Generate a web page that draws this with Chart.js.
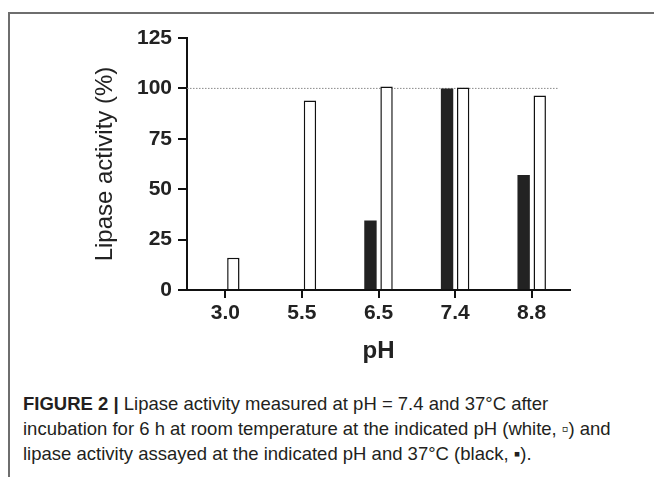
<!DOCTYPE html>
<html>
<head>
<meta charset="utf-8">
<script src="https://cdn.jsdelivr.net/npm/chart.js@4/dist/chart.umd.min.js"></script>
<style>
  body { margin: 0; background: #fff; width: 654px; height: 477px; overflow: hidden; position: relative; }
  #frame { position: absolute; left: 8px; top: 12px; right: 0; bottom: 0; border-top: 2px solid #6e6e6e; border-left: 2px solid #6e6e6e; }
  #chart { position: absolute; left: 0; top: 0; }
  #caption { position: absolute; left: 23px; top: 391px; font-family: "Liberation Sans", Arial, sans-serif; font-size: 18.5px; line-height: 25px; color: #231f20; white-space: nowrap; }
  #caption b { font-weight: bold; }
</style>
</head>
<body>
<div id="frame"></div>
<canvas id="chart" width="654" height="380"></canvas>
<div id="caption">
  <b>FIGURE 2 |</b> Lipase activity measured at pH = 7.4 and 37°C after<br>
  incubation for 6 h at room temperature at the indicated pH (white, ▫) and<br>
  lipase activity assayed at the indicated pH and 37°C (black, ▪).
</div>
<script>
var phLabels = ['3.0', '5.5', '6.5', '7.4', '8.8'];
var assayedActivity = [0, 0, 34.5, 100, 57];      // black bars
var incubatedActivity = [16, 94, 101, 100.5, 96.5]; // white bars
var referenceLevel = 100;

var fontFam = '"Liberation Sans", Arial, sans-serif';

// dotted line at 100 %
var refLine = {
  id: 'refLine',
  beforeDatasetsDraw: function (chart) {
    var y = chart.scales.y.getPixelForValue(referenceLevel);
    var area = chart.chartArea;
    var ctx = chart.ctx;
    ctx.save();
    ctx.strokeStyle = '#8a8a8a';
    ctx.lineWidth = 1;
    ctx.setLineDash([1.5, 1.5]);
    ctx.beginPath();
    ctx.moveTo(area.left, y);
    ctx.lineTo(area.right - 12, y);
    ctx.stroke();
    ctx.restore();
  }
};

var ctx = document.getElementById('chart').getContext('2d');
new Chart(ctx, {
  type: 'bar',
  data: {
    labels: phLabels,
    datasets: [{
      label: 'assayed',
      data: assayedActivity,
      backgroundColor: '#222222',
      borderWidth: 0,
      categoryPercentage: 0.42,
      barPercentage: 0.77
    }, {
      label: 'incubated',
      data: incubatedActivity,
      backgroundColor: '#ffffff',
      borderColor: '#111111',
      borderWidth: 1.5,
      categoryPercentage: 0.42,
      barPercentage: 0.77
    }]
  },
  options: {
    responsive: false,
    animation: false,
    layout: { padding: { left: 0, top: 38, right: 84, bottom: 10 } },
    plugins: {
      legend: { display: false },
      tooltip: { enabled: false }
    },
    scales: {
      x: {
        grid: { drawOnChartArea: false, offset: false, tickLength: 8, color: '#111', lineWidth: 2 },
        border: { color: '#111', width: 2 },
        ticks: { color: '#222', padding: 3, font: { family: fontFam, size: 21, weight: 'bold' } },
        title: { display: true, text: 'pH', color: '#222', padding: { top: 0, bottom: 4 }, font: { family: fontFam, size: 24, weight: 'bold' } },
        afterFit: function (scale) { scale.height = 80; }
      },
      y: {
        min: 0,
        max: 125,
        ticks: { stepSize: 25, color: '#222', padding: 6, font: { family: fontFam, size: 21, weight: 'bold' } },
        grid: { drawOnChartArea: false, tickLength: 9, color: '#111', lineWidth: 2 },
        border: { color: '#111', width: 2 },
        title: { display: true, text: 'Lipase activity (%)', color: '#222', padding: { top: 91, bottom: 0 }, font: { family: fontFam, size: 24 } },
        afterFit: function (scale) { scale.width = 187; }
      }
    }
  },
  plugins: [refLine]
});
</script>
</body>
</html>
